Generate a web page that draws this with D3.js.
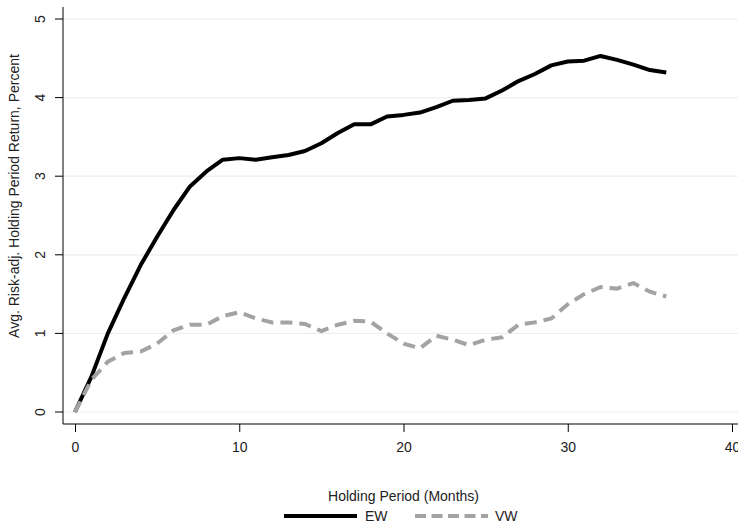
<!DOCTYPE html>
<html>
<head>
<meta charset="utf-8">
<script src="https://cdn.jsdelivr.net/npm/d3@7"></script>
<style>
  body { margin: 0; background: #fff; }
  text { font-family: "Liberation Sans", Arial, sans-serif; fill: #222; }
</style>
</head>
<body>
<div id="chart"></div>
<script>
var width = 738, height = 526;

// holding period in months
var months = d3.range(0, 37);
var ew = [0, 0.45, 1.0, 1.45, 1.87, 2.23, 2.57, 2.87, 3.06, 3.21, 3.23, 3.21, 3.24, 3.27, 3.32, 3.42, 3.55, 3.66, 3.66,
  3.76, 3.78, 3.81, 3.88, 3.96, 3.97, 3.99, 4.09, 4.21, 4.30, 4.41, 4.46, 4.47, 4.53, 4.48, 4.42, 4.35, 4.32];
var vw = [0, 0.41, 0.64, 0.75, 0.77, 0.87, 1.04, 1.11, 1.11, 1.22, 1.27, 1.19, 1.14, 1.14, 1.12, 1.03, 1.11, 1.16, 1.15,
  1.00, 0.87, 0.81, 0.97, 0.92, 0.85, 0.92, 0.95, 1.11, 1.14, 1.19, 1.37, 1.50, 1.59, 1.57, 1.64, 1.53, 1.47];
var xTicks = [0, 10, 20, 30, 40];
var yTicks = [0, 1, 2, 3, 4, 5];
var seriesNames = ["EW", "VW"];

var svg = d3.select("#chart").append("svg")
    .attr("width", width)
    .attr("height", height);

var x = d3.scaleLinear().domain([0, 40]).range([75, 732]);
var y = d3.scaleLinear().domain([0, 5]).range([412, 19]);

var axisLeftX = 63, axisBottomY = 424;

// grid
svg.append("g").selectAll("line")
  .data(yTicks)
  .enter().append("line")
    .attr("x1", axisLeftX)
    .attr("x2", width)
    .attr("y1", function(d) { return y(d); })
    .attr("y2", function(d) { return y(d); })
    .style("stroke", "#e8f0f2")
    .style("stroke-width", 1.2);

// x axis
var gx = svg.append("g")
    .attr("transform", "translate(0," + axisBottomY + ")")
    .call(d3.axisBottom(x).tickValues(xTicks).tickSize(8).tickPadding(10));
gx.select(".domain").remove();
gx.selectAll("text").style("font-size", "14px").style("font-family", "Liberation Sans, Arial, sans-serif").attr("fill", "#222");
svg.append("line")
    .attr("x1", axisLeftX).attr("x2", width)
    .attr("y1", axisBottomY).attr("y2", axisBottomY)
    .style("stroke", "#000").style("stroke-width", 1);

// y axis
var gy = svg.append("g");
gy.selectAll("line")
  .data(yTicks)
  .enter().append("line")
    .attr("x1", axisLeftX - 8)
    .attr("x2", axisLeftX)
    .attr("y1", function(d) { return y(d); })
    .attr("y2", function(d) { return y(d); })
    .style("stroke", "#000");
gy.selectAll("text")
  .data(yTicks)
  .enter().append("text")
    .attr("transform", function(d) { return "translate(45," + y(d) + ") rotate(-90)"; })
    .attr("text-anchor", "middle")
    .style("font-size", "14px")
    .text(function(d) { return d; });
svg.append("line")
    .attr("x1", axisLeftX).attr("x2", axisLeftX)
    .attr("y1", 7).attr("y2", axisBottomY)
    .style("stroke", "#000").style("stroke-width", 1);

// titles
svg.append("text")
    .attr("transform", "translate(19,196) rotate(-90)")
    .attr("text-anchor", "middle")
    .style("font-size", "14px")
    .text("Avg. Risk-adj. Holding Period Return, Percent");
svg.append("text")
    .attr("x", x(20))
    .attr("y", 501)
    .attr("text-anchor", "middle")
    .style("font-size", "14px")
    .text("Holding Period (Months)");

// lines
var line = d3.line()
    .x(function(d, i) { return x(months[i]); })
    .y(function(d) { return y(d); });

svg.append("path")
    .datum(ew)
    .attr("d", line)
    .style("fill", "none")
    .style("stroke", "#000")
    .style("stroke-width", 4)
    .style("stroke-linejoin", "round");

svg.append("path")
    .datum(vw)
    .attr("d", line)
    .style("fill", "none")
    .style("stroke", "#a3a3a3")
    .style("stroke-width", 4)
    .style("stroke-dasharray", "12,7");

// legend
var legY = 516;
svg.append("line")
    .attr("x1", 284).attr("x2", 357)
    .attr("y1", legY).attr("y2", legY)
    .style("stroke", "#000").style("stroke-width", 4);
svg.append("text")
    .attr("x", 365).attr("y", legY + 5)
    .style("font-size", "14px")
    .text(seriesNames[0]);
svg.append("line")
    .attr("x1", 415).attr("x2", 488)
    .attr("y1", legY).attr("y2", legY)
    .style("stroke", "#a3a3a3").style("stroke-width", 4)
    .style("stroke-dasharray", "11,5.5");
svg.append("text")
    .attr("x", 495).attr("y", legY + 5)
    .style("font-size", "14px")
    .text(seriesNames[1]);
</script>
</body>
</html>
